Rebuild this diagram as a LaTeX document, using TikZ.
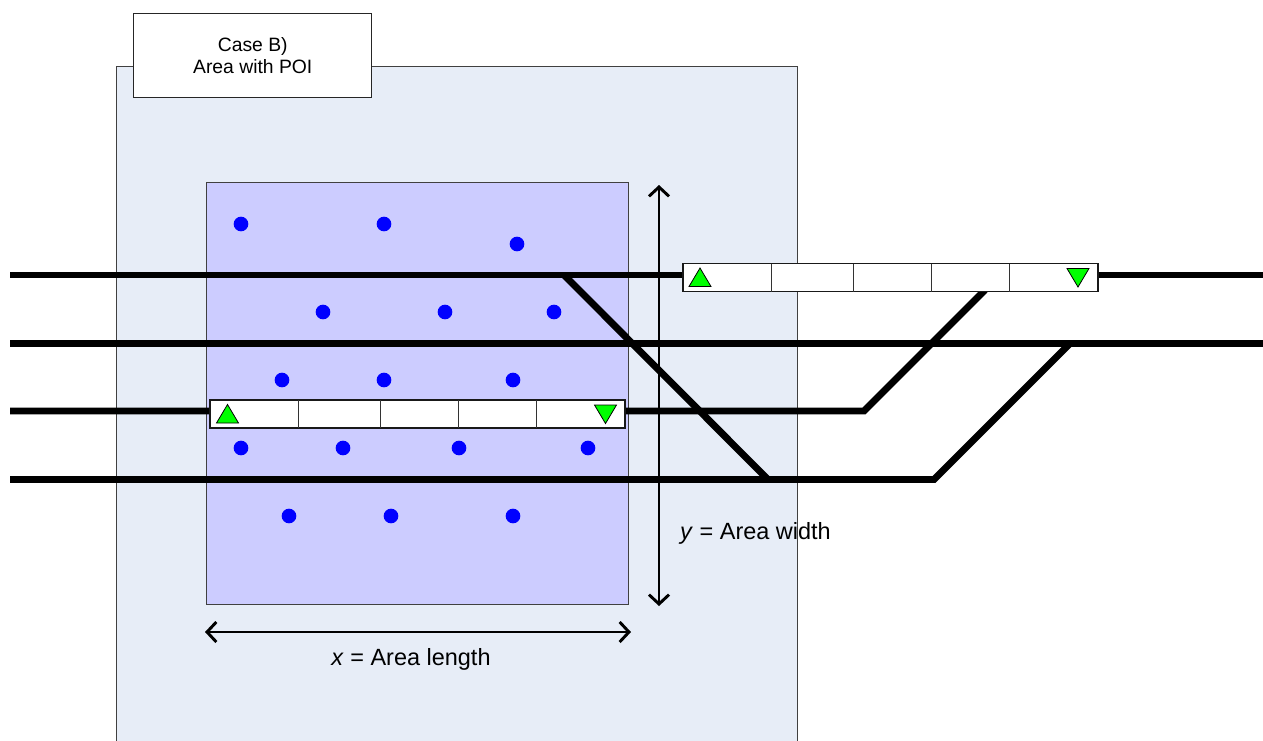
\documentclass[tikz,border=0pt]{standalone}
\usepackage{fontspec}
\setmainfont{Liberation Sans}
\usetikzlibrary{arrows.meta}
\definecolor{areablue}{HTML}{E7EDF7}
\definecolor{poiblue}{HTML}{CCCCFF}
\definecolor{trigreen}{HTML}{00FF00}
\begin{document}
\begin{tikzpicture}[x=0.75pt,y=-0.75pt,
  zone/.style={draw=black!75,line width=0.75pt,fill=#1},
  caption/.style={draw=black!85,line width=0.75pt,fill=white,minimum width=178.5pt,minimum height=63.5pt,align=center,inner sep=0pt,font=\fontsize{14.5}{16.5}\selectfont},
  poi/.style={circle,fill=blue,draw=none,minimum size=11pt,inner sep=0pt},
  track/.style={line width=5.2pt,line join=miter},
  train/.style={draw=black!90,line width=1.4pt,fill=white,minimum width=311.25pt,minimum height=21pt,inner sep=0pt},
  car/.style={draw=black!80,line width=0.7pt},
  tri/.style={draw=black,line width=0.6pt,fill=trigreen},
  dim/.style={line width=2.2pt,{Straight Barb[length=7pt,width=15pt]}-{Straight Barb[length=7pt,width=15pt]}},
  dimlabel/.style={inner sep=0pt,font=\fontsize{17.6}{20}\selectfont}]
\clip (0,0) rectangle (1263,740);
% areas
\path[zone=areablue] (116.5,66.5) rectangle (797,760);
\path[zone=poiblue] (206.7,182.5) rectangle (628.7,604.5);
\node[caption] (case) at (252.75,55.5) {Case B)\\Area with POI};
% points of interest
\foreach \n/\px/\py in {a/241/224,b/384/224,c/517/244,d/323/312,e/445/312,f/554/312,
  g/282/380,h/384/380,i/513/380,j/241/448,k/343/448,l/459/448,m/588/448,n/289/516,o/391/516,p/513/516}
  \node[poi] (poi\n) at (\px,\py) {};
% track points
\coordinate (t1l) at (10,275); \coordinate (t1r) at (1263,275);
\coordinate (t2l) at (10,343.5); \coordinate (t2r) at (1263,343.5);
\coordinate (t3l) at (10,411); \coordinate (t3k) at (864,411); \coordinate (t3e) at (985,290);
\coordinate (t4l) at (10,479.5); \coordinate (t4k) at (934,479.5); \coordinate (t4e) at (1070,343.5);
\coordinate (t5s) at (564,275); \coordinate (t5e) at (768,479.5);
\draw[track] (t1l) -- (t1r);
\draw[track] (t2l) -- (t2r);
\draw[track] (t3l) -- (t3k) -- (t3e);
\draw[track] (t4l) -- (t4k) -- (t4e);
\draw[track] (t5s) -- (t5e);
% trains
\node[train] (trainA) at (890.5,277.5) {};
\foreach \dx in {771.5,853.5,931.5,1009.5}
  \draw[car] (\dx,263.5) -- (\dx,291.5);
\path[tri] (700,268) -- (711,286.5) -- (689,286.5) -- cycle;
\path[tri] (1078,287) -- (1067,268.5) -- (1089,268.5) -- cycle;
\node[train] (trainB) at (417.5,414) {};
\foreach \dx in {298.5,380.5,458.5,536.5}
  \draw[car] (\dx,400) -- (\dx,428);
\path[tri] (227.5,404.5) -- (238.5,423) -- (216.5,423) -- cycle;
\path[tri] (605.5,423.5) -- (594.5,405) -- (616.5,405) -- cycle;
% dimensions
\coordinate (ytop) at (659,185); \coordinate (ybot) at (659,606);
\coordinate (xl) at (205,632); \coordinate (xr) at (631,632);
\draw[dim] (ytop) -- (ybot);
\draw[dim] (xl) -- (xr);
\node[dimlabel] (xlabel) at (411,659.5) {\textit{x} = Area length};
\node[dimlabel] (ylabel) at (755.5,533) {\textit{y} = Area width};
\end{tikzpicture}
\end{document}
